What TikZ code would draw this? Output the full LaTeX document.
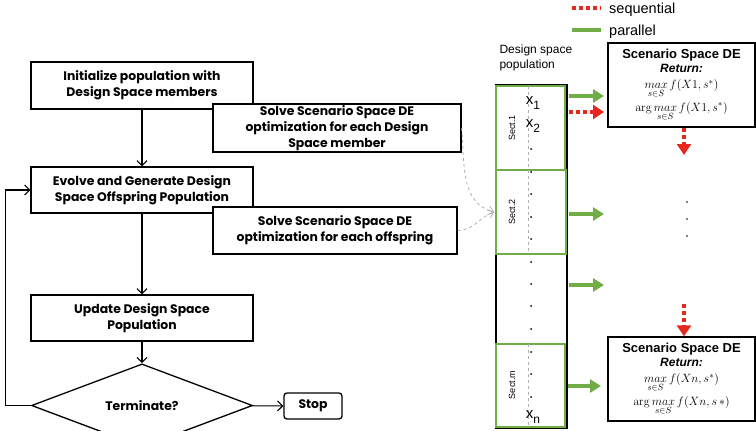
\documentclass[tikz,border=0pt]{standalone}
\usepackage[no-math]{fontspec}
\setmainfont{Liberation Sans}
\newfontfamily\flowfont{Poppins}
\usetikzlibrary{arrows.meta,shapes.geometric}

\definecolor{seqred}{RGB}{232,40,30}
\definecolor{pargreen}{RGB}{112,173,71}
\definecolor{linkgray}{RGB}{175,175,175}

\newcommand{\scentitle}{{\bfseries\fontsize{13}{15}\selectfont Scenario Space DE}}
\newcommand{\scenreturn}{{\bfseries\itshape\fontsize{12}{14}\selectfont Return:}}
\newcommand{\maxover}{\mathop{max}\limits_{s\in S}}

\begin{document}
\begin{tikzpicture}[x=1pt,y=-1pt,
  flowbox/.style={draw,line width=1.3pt,fill=white,inner sep=0pt,align=center,
    font=\flowfont\bfseries\fontsize{12.4}{16}\selectfont},
  flowarrow/.style={line width=1.1pt,-{Straight Barb[length=5pt,width=10pt,line width=1.1pt]}},
  linkarrow/.style={linkgray,line width=0.8pt,dashed,-{Straight Barb[length=5pt,width=9pt,line width=0.8pt]}},
  pararrow/.style={pargreen,line width=4pt,-{Triangle[length=11pt,width=13pt]}},
  seqarrow/.style={seqred,line width=4pt,dash pattern=on 4pt off 3pt,-{Triangle[length=11pt,width=14pt]}},
  sectbox/.style={draw=pargreen,line width=1.2pt,inner sep=0pt},
  divider/.style={linkgray,line width=0.6pt,dashed},
  popdot/.style={circle,fill=black,inner sep=0pt,minimum size=2pt},
  sectlabel/.style={rotate=90,font=\fontsize{9}{10}\selectfont},
  memberlabel/.style={font=\fontsize{15}{15}\selectfont},
  scenbox/.style={draw,line width=1.3pt,fill=white,inner sep=0pt,align=center,
    minimum width=147pt,minimum height=84pt,font=\fontsize{13}{14}\selectfont}
]
\useasboundingbox (0,0) rectangle (756,431);

% ---------------- flowchart ----------------
\node[flowbox,minimum width=222pt,minimum height=47pt] (init) at (142,85.5)
  {Initialize population with\\Design Space members};
\node[flowbox,minimum width=222pt,minimum height=46pt] (evolve) at (142,190)
  {Evolve and Generate Design\\Space Offspring Population};
\node[flowbox,minimum width=248pt,minimum height=48pt] (solveA) at (337,128)
  {Solve Scenario Space DE\\optimization for each Design\\Space member};
\node[flowbox,minimum width=244pt,minimum height=47pt] (solveB) at (335,230.5)
  {Solve Scenario Space DE\\optimization for each offspring};
\node[flowbox,minimum width=222pt,minimum height=46pt] (update) at (142,318)
  {Update Design Space\\Population};
\node[flowbox,diamond,minimum width=221pt,minimum height=45pt] (term) at (142,405.5)
  {Terminate?};
\node[flowbox,rounded corners=3pt,minimum width=58pt,minimum height=26pt] (stop) at (313,406)
  {Stop};

\draw[flowarrow] (init) -- (evolve);
\draw[flowarrow] (evolve.south) -- (update.north);
\draw[flowarrow] (update) -- (term);
\draw[flowarrow] (term) -- (stop);
\draw[flowarrow] (term.west) -- ++(-25,0) |- (evolve.west);

% ---------------- population column ----------------
\node[draw,line width=1.3pt,minimum width=71pt,minimum height=343pt,inner sep=0pt] (column) at (531.5,256.5) {};
\node[sectbox,fill=white,minimum width=69pt,minimum height=84pt] (sect1) at (530.5,128) {};
\node[sectbox,fill=white,minimum width=70pt,minimum height=84pt] (sect2) at (531,212) {};
\node[sectbox,fill=white,minimum width=69pt,minimum height=83pt] (sectm) at (530.5,385.5) {};

\draw[divider] (528,86) -- (528,170);
\draw[divider] (528,170) -- (528,254);
\draw[divider] (528,344) -- (528,427);

\node[sectlabel] (s1lab) at (512,128) {Sect.1};
\node[sectlabel] (s2lab) at (512,212) {Sect.2};
\node[sectlabel] (smlab) at (512,385) {Sect.m};

\node[memberlabel] (x1) at (533,103) {x\raisebox{-5pt}{\fontsize{12}{12}\selectfont 1}};
\node[memberlabel] (x2) at (533,126) {x\raisebox{-5pt}{\fontsize{12}{12}\selectfont 2}};
\node[memberlabel] (xn) at (533,417) {x\raisebox{-5pt}{\fontsize{12}{12}\selectfont n}};

\foreach \yy in {149,172,194,217,239,262,284,306,329,352,374,397}
  \node[popdot] at (531,\yy) {};

\node[align=left,anchor=west,font=\fontsize{12}{15}\selectfont] (poplab) at (496,58)
  {Design space\\population};

% links from the flowchart into the population column
\coordinate (intake) at (494,212);
\draw[linkarrow] (solveA.east) to[out=-85,in=165] (intake);
\draw[linkarrow] (solveB.east) to[out=0,in=200] (intake);

% ---------------- scenario space boxes ----------------
\node[scenbox] (scenA) at (681.5,85)
  {\scentitle\\[0pt]
   \scenreturn\\[2pt]
   $\maxover f(X1,s^{*})$\\[3pt]
   $\arg\maxover f(X1,s^{*})$};
\node[scenbox] (scenB) at (681.5,379)
  {\scentitle\\[0pt]
   \scenreturn\\[2pt]
   $\maxover f(Xn,s^{*})$\\[3pt]
   $\arg\maxover f(Xn,s\,{\ast})$};

% parallel hand-off arrows
\coordinate (pA) at (569,96);   \coordinate (pAe) at (604,96);
\coordinate (pB) at (569,214);  \coordinate (pBe) at (604,214);
\coordinate (pC) at (569,285);  \coordinate (pCe) at (604,285);
\coordinate (pD) at (568,386);  \coordinate (pDe) at (601,386);
\draw[pararrow] (pA) -- (pAe);
\draw[pararrow] (pB) -- (pBe);
\draw[pararrow] (pC) -- (pCe);
\draw[pararrow] (pD) -- (pDe);

% sequential arrows
\coordinate (qA) at (569,112);  \coordinate (qAe) at (604,112);
\draw[seqarrow] (qA) -- (qAe);
\coordinate (qB) at (684,155);
\draw[seqarrow] (scenA.south -| qB) -- (qB);
\coordinate (qC) at (684,304);
\draw[seqarrow] (qC) -- (scenB.north -| qC);

% elided scenario runs
\foreach \yy in {202,219,236}
  \node[popdot,minimum size=1.6pt] at (687,\yy) {};

% ---------------- legend ----------------
\coordinate (legA) at (572,8);  \coordinate (legAe) at (601,8);
\coordinate (legB) at (572,30); \coordinate (legBe) at (601,30);
\draw[seqred,line width=4pt,dash pattern=on 4pt off 3pt] (legA) -- (legAe);
\draw[pargreen,line width=4pt] (legB) -- (legBe);
\node[anchor=base west,inner sep=0pt,font=\fontsize{14.5}{15}\selectfont] (legseq) at (609,13) {sequential};
\node[anchor=base west,inner sep=0pt,font=\fontsize{14.5}{15}\selectfont] (legpar) at (609,35) {parallel};
\end{tikzpicture}
\end{document}
